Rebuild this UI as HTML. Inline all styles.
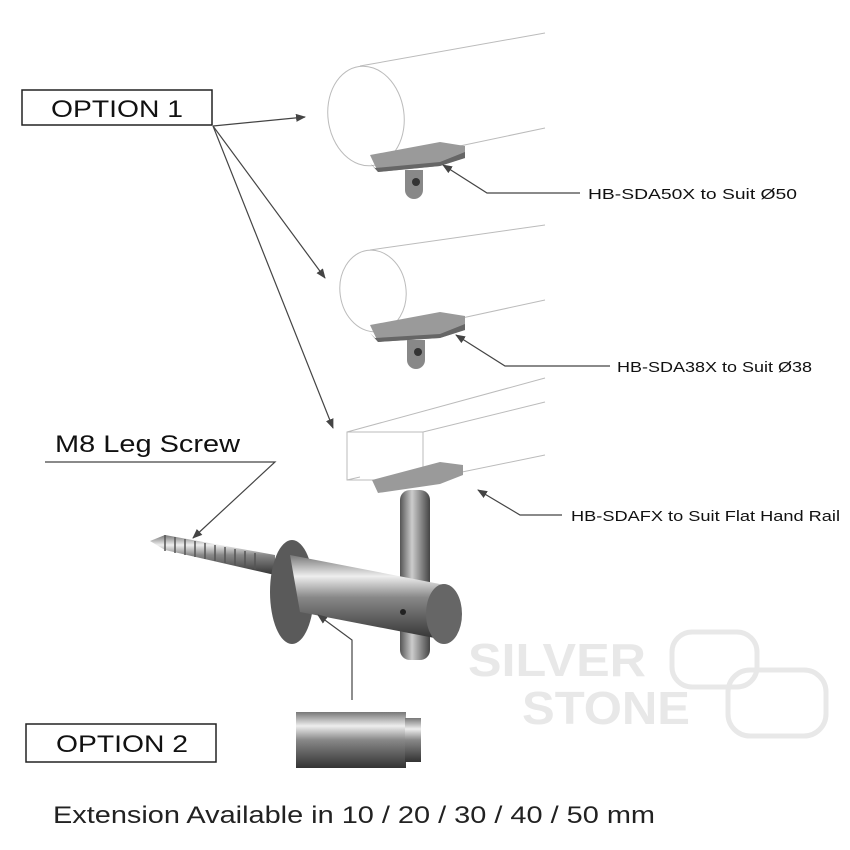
<!DOCTYPE html>
<html><head><meta charset="utf-8"><style>body{margin:0;background:#fff}svg{display:block}text{font-family:"Liberation Sans",sans-serif}</style></head><body>
<svg width="850" height="850" viewBox="0 0 850 850" xmlns="http://www.w3.org/2000/svg">
<defs>
<marker id="a" markerWidth="10" markerHeight="8" refX="9" refY="4" orient="auto" markerUnits="userSpaceOnUse"><path d="M0,0L10,4L0,8z" fill="#444"/></marker>
<linearGradient id="m" x1="0" y1="0" x2="0" y2="1"><stop offset="0" stop-color="#777"/><stop offset=".25" stop-color="#eee"/><stop offset=".5" stop-color="#888"/><stop offset="1" stop-color="#333"/></linearGradient>
<linearGradient id="mv" x1="0" y1="0" x2="1" y2="0"><stop offset="0" stop-color="#555"/><stop offset=".4" stop-color="#ccc"/><stop offset="1" stop-color="#444"/></linearGradient>
</defs>
<g fill="#e8e8e8" font-weight="bold" font-size="46"><text x="468" y="676" textLength="178" lengthAdjust="spacingAndGlyphs">SILVER</text><text x="522" y="724" textLength="168" lengthAdjust="spacingAndGlyphs">STONE</text></g>
<g fill="none" stroke="#e8e8e8" stroke-width="5"><rect x="672" y="632" width="85" height="55" rx="20"/><rect x="728" y="670" width="98" height="66" rx="22"/></g>
<rect x="22" y="90" width="190" height="35" fill="none" stroke="#222" stroke-width="1.5"/>
<text x="51" y="117" font-size="24" fill="#111" textLength="132" lengthAdjust="spacingAndGlyphs">OPTION 1</text>
<g stroke="#444" stroke-width="1.2" fill="none" marker-end="url(#a)">
<line x1="213" y1="126" x2="305" y2="117"/><line x1="213" y1="126" x2="325" y2="278"/><line x1="213" y1="126" x2="333" y2="428"/>
</g>
<g fill="none" stroke="#bbb" stroke-width="1">
<ellipse cx="366" cy="116" rx="38" ry="50" transform="rotate(-8 366 116)"/>
<line x1="360" y1="66" x2="545" y2="33"/><line x1="455" y1="147" x2="545" y2="128"/>
<ellipse cx="373" cy="291" rx="33" ry="41" transform="rotate(-8 373 291)"/>
<line x1="370" y1="250" x2="545" y2="225"/><line x1="462" y1="318" x2="545" y2="300"/>
<path d="M347,432H423V480H347Z M347,432L545,378 M423,432L545,402 M423,480L545,455 M347,480L360,477"/>
</g>
<g>
<path d="M370,155L440,142L465,146V158L440,166L378,172Z" fill="#9a9a9a"/><path d="M370,163L378,172L440,166L465,158V152L440,162L375,168Z" fill="#666"/>
<path d="M405,170h18v20a9,9 0 0 1-18,0z" fill="#888"/><circle cx="416" cy="182" r="4" fill="#333"/>
<path d="M370,325L440,312L465,316V330L440,338L378,342Z" fill="#9a9a9a"/><path d="M370,333L378,342L440,338L465,330V324L440,334L375,338Z" fill="#666"/>
<path d="M407,340h18v20a9,9 0 0 1-18,0z" fill="#888"/><circle cx="418" cy="352" r="4" fill="#333"/>
<path d="M372,480L440,462L463,465V475L440,484L378,493Z" fill="#9a9a9a"/>
</g>
<g stroke="#444" stroke-width="1.2" fill="none">
<polyline points="580,193 487,193 443,165" marker-end="url(#a)"/>
<polyline points="610,366 505,366 456,335" marker-end="url(#a)"/>
<polyline points="562,515 520,515 478,490" marker-end="url(#a)"/>
</g>
<g font-size="15" fill="#111"><text x="588" y="199" textLength="209" lengthAdjust="spacingAndGlyphs">HB-SDA50X to Suit Ø50</text><text x="617" y="372" textLength="195" lengthAdjust="spacingAndGlyphs">HB-SDA38X to Suit Ø38</text><text x="571" y="521" textLength="269" lengthAdjust="spacingAndGlyphs">HB-SDAFX to Suit Flat Hand Rail</text></g>
<text x="55" y="452" font-size="24" fill="#111" textLength="185" lengthAdjust="spacingAndGlyphs">M8 Leg Screw</text>
<polyline points="45,462 275,462 193,538" fill="none" stroke="#444" stroke-width="1.2" marker-end="url(#a)"/>
<path d="M150,541L165,535L275,555V575L165,550Z" fill="url(#m)"/>
<path d="M165,535 l0,16 M175,537l0,16 M185,539l0,16 M195,541l0,16 M205,543l0,16 M215,545l0,16 M225,547l0,16 M235,549l0,16 M245,551l0,16 M255,553l0,16" stroke="#555" stroke-width="1.5"/>
<rect x="400" y="490" width="30" height="170" rx="10" fill="url(#mv)"/>
<ellipse cx="292" cy="592" rx="22" ry="52" fill="#5a5a5a"/>
<path d="M290,555L445,585V640L300,612Z" fill="url(#m)"/>
<ellipse cx="444" cy="614" rx="18" ry="30" fill="#666"/>
<circle cx="403" cy="612" r="3" fill="#222"/>
<polyline points="352,700 352,640 318,615" fill="none" stroke="#444" stroke-width="1.2" marker-end="url(#a)"/>
<rect x="296" y="712" width="110" height="56" fill="url(#m)"/>
<rect x="405" y="718" width="16" height="44" fill="url(#m)"/>
<rect x="26" y="724" width="190" height="38" fill="none" stroke="#222" stroke-width="1.5"/>
<text x="56" y="752" font-size="24" fill="#111" textLength="132" lengthAdjust="spacingAndGlyphs">OPTION 2</text>
<text x="53" y="823" font-size="24" fill="#222" textLength="602" lengthAdjust="spacingAndGlyphs">Extension Available in 10 / 20 / 30 / 40 / 50  mm</text>
</svg>
</body></html>
